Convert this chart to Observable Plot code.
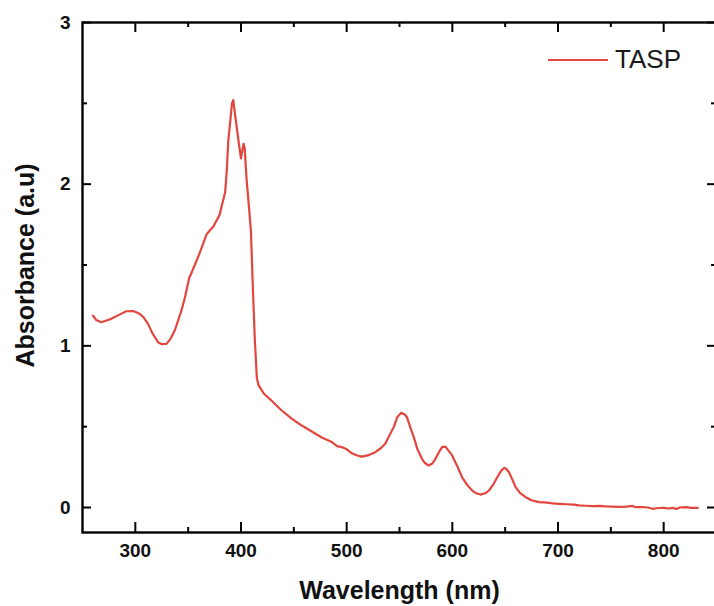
<!DOCTYPE html>
<html>
<head>
<meta charset="utf-8">
<script src="https://cdn.jsdelivr.net/npm/d3@7"></script>
<script src="https://cdn.jsdelivr.net/npm/@observablehq/plot@0.6"></script>
<style>
  html, body { margin: 0; padding: 0; background: #fff; overflow: hidden; }
  #wrap { position: relative; width: 714px; height: 606px; font-family: "Liberation Sans", Arial, sans-serif; }
  #legend { position: absolute; left: 548px; top: 44px; display: flex; align-items: center; font-size: 26px; color: #1a1a1a; }
  #legend .sw { width: 60px; height: 0; border-top: 2.6px solid #e2463f; margin-right: 7px; }
</style>
</head>
<body>
<div id="wrap"><div id="legend"><span class="sw"></span><span id="legtext"></span></div></div>
<script>
const seriesName = "TASP";
const xTitle = "Wavelength (nm)";
const yTitle = "Absorbance (a.u)";
const xMajor = [300, 400, 500, 600, 700, 800];
const xMinor = [350, 450, 550, 650, 750];
const yMajor = [0, 1, 2, 3];
const yMinor = [0.5, 1.5, 2.5];

const wavelength = [
  259.9, 263, 267.7, 272, 277.2, 284, 291.5, 298, 304.1, 308, 312, 316, 321.5, 325, 329.4, 333, 337.3,
  343.6, 347, 351, 355, 360.7, 367.4, 374, 379.7, 381.6, 385, 386.5, 388, 390, 391.5, 392.7, 394, 396,
  398, 400, 401, 402.5, 403.5, 405.3, 407, 409.4, 411, 413, 415, 416.7, 421.5, 429, 438.5, 448, 457.5,
  467, 476.5, 486, 491, 496, 500, 505, 510, 514.4, 520, 527, 532, 536.5, 540, 544.5, 548, 551.7, 555,
  557.1, 560, 563.5, 567, 571.3, 574, 577.7, 581, 584, 588, 590.3, 593.5, 596, 599.8, 605, 609.3, 614,
  618.8, 622, 626.7, 631, 634.6, 639, 642.5, 646, 648.9, 651, 653.6, 657, 659.9, 664, 669.4, 675, 682,
  690, 695, 701, 708, 715, 720, 726.3, 733, 740, 745, 751.6, 758, 765, 770, 773.7, 780, 785, 789.5,
  795, 800, 805, 808.5, 812, 815, 821.2, 826, 832.3
];
const absorbance = [
  1.187, 1.16, 1.146, 1.155, 1.167, 1.19, 1.214, 1.215, 1.198, 1.175, 1.136, 1.08, 1.022, 1.01, 1.012, 1.04, 1.095,
  1.218, 1.30, 1.42, 1.48, 1.57, 1.69, 1.74, 1.81, 1.86, 1.95, 2.08, 2.27, 2.40, 2.50, 2.52, 2.45, 2.35,
  2.25, 2.16, 2.20, 2.25, 2.22, 2.03, 1.90, 1.71, 1.40, 1.05, 0.80, 0.755, 0.705, 0.66, 0.60, 0.55, 0.507,
  0.47, 0.433, 0.405, 0.38, 0.372, 0.36, 0.335, 0.322, 0.315, 0.322, 0.342, 0.365, 0.394, 0.44, 0.497, 0.56, 0.586, 0.575,
  0.558, 0.50, 0.435, 0.36, 0.301, 0.275, 0.26, 0.272, 0.301, 0.35, 0.373, 0.377, 0.355, 0.322, 0.25, 0.187, 0.14,
  0.105, 0.09, 0.080, 0.088, 0.105, 0.145, 0.187, 0.225, 0.245, 0.24, 0.218, 0.17, 0.126, 0.09, 0.064, 0.045, 0.033,
  0.03, 0.025, 0.023, 0.02, 0.018, 0.013, 0.011, 0.009, 0.01, 0.007, 0.006, 0.004, 0.005, 0.01, 0.002, 0.003, 0.0, -0.008,
  -0.003, -0.002, -0.006, -0.002, -0.009, 0.0, 0.002, -0.002, -0.002
];

const data = wavelength.map((w, i) => ({w, a: absorbance[i]}));

const W = 714, H = 606, ML = 82, MR = -2, MT = 22, MB = 74;
const plotW = W - ML - MR, plotH = H - MT - MB;
const red = "#e2463f";
const font = "Liberation Sans, Arial, sans-serif";

const chart = Plot.plot({
  width: W, height: H,
  marginLeft: ML, marginRight: MR, marginTop: MT, marginBottom: MB,
  style: {fontFamily: font, background: "white", overflow: "visible"},
  x: {domain: [250, 850]},
  y: {domain: [-0.1546, 3]},
  marks: [
    Plot.line(data, {x: "w", y: "a", stroke: red, strokeWidth: 2.2, curve: "linear"}),
    Plot.frame({stroke: "black", strokeWidth: 2.4}),
    // inward ticks
    Plot.ruleY(yMajor, {stroke: "black", strokeWidth: 2, insetRight: plotW - 9}),
    Plot.ruleY(yMinor, {stroke: "black", strokeWidth: 2, insetRight: plotW - 5}),
    Plot.ruleY(yMajor, {stroke: "black", strokeWidth: 2, insetLeft: plotW - 9}),
    Plot.ruleY(yMinor, {stroke: "black", strokeWidth: 2, insetLeft: plotW - 5}),
    Plot.ruleX(xMajor, {stroke: "black", strokeWidth: 2, insetTop: plotH - 10}),
    Plot.ruleX(xMinor, {stroke: "black", strokeWidth: 2, insetTop: plotH - 5}),
    Plot.ruleX(xMajor, {stroke: "black", strokeWidth: 2, insetBottom: plotH - 10}),
    Plot.ruleX(xMinor, {stroke: "black", strokeWidth: 2, insetBottom: plotH - 5}),
    // tick labels
    Plot.axisX(xMajor, {tickSize: 0, tickPadding: 11, label: null, tickFormat: d3.format("d"), fontSize: 19, fontWeight: "bold", fill: "#111"}),
    Plot.axisY(yMajor, {tickSize: 0, tickPadding: 12, label: null, tickFormat: d3.format("d"), fontSize: 19, fontWeight: "bold", fill: "#111"}),
    // axis titles
    Plot.text([xTitle], {frameAnchor: "bottom", dy: 66, text: d => d, textAnchor: "middle", fontSize: 25, fontWeight: "bold", fill: "#111"}),
    Plot.text([yTitle], {frameAnchor: "left", dx: -57, dy: -12, rotate: -90, text: d => d, textAnchor: "middle", fontSize: 25, fontWeight: "bold", fill: "#111"})
  ]
});

document.getElementById("wrap").prepend(chart);
document.getElementById("legtext").textContent = seriesName;
</script>
</body>
</html>
